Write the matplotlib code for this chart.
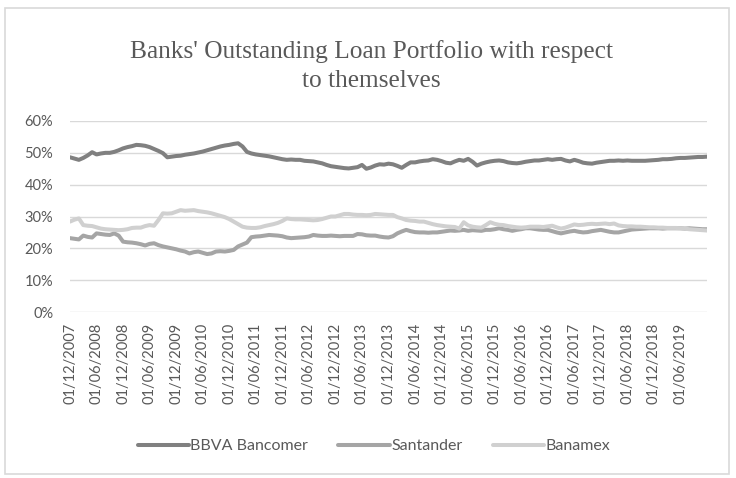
import pandas as pd
import matplotlib.pyplot as plt
from matplotlib.patches import Rectangle
from matplotlib.ticker import PercentFormatter

# monthly share of each bank, Dec 2007 .. Dec 2019 (%)
bbva = [48.6, 48.2, 47.8, 48.4, 49.2, 50.2, 49.5, 49.8, 50.0, 50.0, 50.3, 50.8,
        51.4, 51.8, 52.1, 52.5, 52.4, 52.2, 51.8, 51.2, 50.6, 49.9, 48.6, 48.8,
        49.0, 49.1, 49.4, 49.6, 49.8, 50.1, 50.4, 50.8, 51.2, 51.6, 52.0, 52.3,
        52.5, 52.8, 53.0, 52.0, 50.3, 49.8, 49.5, 49.3, 49.1, 48.9, 48.6, 48.3,
        48.0, 47.8, 47.9, 47.8, 47.8, 47.5, 47.4, 47.3, 47.0, 46.7, 46.2, 45.8,
        45.6, 45.4, 45.2, 45.1, 45.3, 45.5, 46.2, 45.0, 45.4, 46.0, 46.4, 46.3,
        46.6, 46.4, 45.9, 45.3, 46.2, 47.0, 47.0, 47.3, 47.5, 47.6, 48.0, 47.8,
        47.4, 46.9, 46.7, 47.3, 47.8, 47.5, 48.1, 47.2, 46.0, 46.6, 47.0, 47.3,
        47.5, 47.6, 47.4, 47.0, 46.8, 46.7, 46.9, 47.2, 47.4, 47.6, 47.6, 47.8,
        48.0, 47.8, 48.0, 48.1, 47.6, 47.3, 47.8, 47.4, 46.9, 46.7, 46.6, 46.9,
        47.1, 47.3, 47.5, 47.5, 47.6, 47.5, 47.6, 47.5, 47.5, 47.5, 47.5, 47.6,
        47.7, 47.8, 48.0, 48.0, 48.1, 48.3, 48.4, 48.4, 48.5, 48.6, 48.7, 48.7,
        48.8]

santander = [23.2, 23.0, 22.8, 24.0, 23.6, 23.4, 24.7, 24.5, 24.3, 24.2, 24.7, 24.0,
             22.1, 21.9, 21.8, 21.6, 21.3, 20.9, 21.4, 21.6, 21.0, 20.6, 20.3, 20.0,
             19.7, 19.3, 19.0, 18.4, 18.8, 19.0, 18.6, 18.2, 18.4, 19.0, 19.1, 19.0,
             19.2, 19.5, 20.6, 21.2, 21.8, 23.5, 23.7, 23.8, 24.0, 24.2, 24.1, 24.0,
             23.8, 23.4, 23.2, 23.3, 23.4, 23.5, 23.7, 24.2, 24.0, 23.9, 23.9, 24.0,
             23.9, 23.8, 23.9, 23.9, 23.9, 24.5, 24.4, 24.1, 24.0, 24.0, 23.7, 23.5,
             23.4, 23.8, 24.7, 25.3, 25.8, 25.4, 25.1, 25.0, 25.0, 24.9, 25.0, 25.0,
             25.2, 25.4, 25.6, 25.5, 25.6, 25.8, 25.5, 25.7, 25.6, 25.5, 25.8, 25.8,
             26.0, 26.3, 26.0, 25.8, 25.5, 25.8, 26.0, 26.3, 26.3, 26.1, 25.9, 25.8,
             25.8, 25.4, 25.0, 24.7, 25.0, 25.3, 25.5, 25.2, 25.0, 25.1, 25.4, 25.6,
             25.8, 25.5, 25.2, 25.0, 25.0, 25.3, 25.6, 25.9, 26.0, 26.1, 26.2, 26.3,
             26.3, 26.3, 26.2, 26.3, 26.3, 26.3, 26.3, 26.2, 26.3, 26.2, 26.1, 26.0,
             26.0]

banamex = [28.4, 29.0, 29.4, 27.3, 27.1, 27.0, 26.6, 26.2, 26.0, 25.9, 25.8, 25.7,
           25.8, 26.0, 26.4, 26.5, 26.5, 27.0, 27.3, 27.1, 28.9, 31.0, 30.9, 31.0,
           31.5, 32.0, 31.8, 31.9, 32.0, 31.7, 31.5, 31.3, 31.0, 30.6, 30.2, 29.8,
           29.2, 28.4, 27.6, 26.8, 26.5, 26.4, 26.4, 26.6, 27.0, 27.3, 27.6, 28.0,
           28.6, 29.4, 29.2, 29.1, 29.1, 29.0, 28.9, 28.8, 28.9, 29.2, 29.6, 30.0,
           30.0, 30.4, 30.8, 30.8, 30.6, 30.5, 30.5, 30.4, 30.5, 30.8, 30.7, 30.6,
           30.5, 30.5, 29.8, 29.4, 28.9, 28.7, 28.6, 28.4, 28.4, 28.0, 27.6, 27.3,
           27.1, 26.9, 26.8, 26.7, 26.2, 28.2, 27.2, 26.8, 26.6, 26.5, 27.3, 28.2,
           27.7, 27.4, 27.3, 27.0, 26.8, 26.6, 26.5, 26.6, 26.8, 26.8, 26.8, 26.7,
           26.9, 27.1, 26.6, 26.2, 26.5, 27.0, 27.5, 27.3, 27.4, 27.6, 27.7, 27.6,
           27.7, 27.8, 27.6, 27.8, 27.2, 27.0, 26.9, 26.9, 26.8, 26.8, 26.7, 26.6,
           26.6, 26.5, 26.5, 26.4, 26.4, 26.4, 26.3, 26.2, 26.0, 25.9, 25.8, 25.7,
           25.6]

dates = pd.date_range('2007-12-01', periods=len(bbva), freq='MS')
tick_labels = [d.strftime('%d/%m/%Y') for d in dates[::6]][:24]

grey_txt = '#595959'

fig = plt.figure(figsize=(7.36, 4.78), dpi=100)
fig.patches.append(Rectangle((5 / 736, 1 - 474 / 478), 724 / 736, 466 / 478,
                             transform=fig.transFigure, fill=False,
                             edgecolor='#d9d9d9', linewidth=1.2))

ax = fig.add_axes([70 / 736, 1 - 312 / 478, 637 / 736, 191 / 478])
x = range(len(bbva))
ax.plot(x, bbva, color='#808080', lw=2.9, label='BBVA Bancomer', solid_capstyle='round')
ax.plot(x, santander, color='#a5a5a5', lw=2.9, label='Santander', solid_capstyle='round')
ax.plot(x, banamex, color='#d0d0d0', lw=2.9, label='Banamex', solid_capstyle='round')

ax.set_xlim(0, len(bbva) - 1)
ax.set_ylim(0, 60)
ax.set_yticks(range(0, 61, 10))
ax.yaxis.set_major_formatter(PercentFormatter(decimals=0))
ax.set_xticks(range(0, 24 * 6, 6))
ax.set_xticklabels(tick_labels, rotation=90)
ax.grid(axis='y', color='#d9d9d9', lw=1)
ax.set_axisbelow(True)
for s in ax.spines.values():
    s.set_visible(False)
ax.tick_params(length=0, colors=grey_txt, labelsize=10.5, pad=8)
ax.tick_params(axis='y', pad=12)
for lab in ax.get_xticklabels() + ax.get_yticklabels():
    lab.set_family('Lato')

fig.text(0.505, 1 - 66 / 478, "Banks' Outstanding Loan Portfolio with respect\nto themselves",
         ha='center', va='center', family='Liberation Serif', fontsize=18.3,
         color=grey_txt, linespacing=1.45)

fig.legend(loc='center', bbox_to_anchor=(0.508, 1 - 446 / 478), ncol=3, frameon=False,
           prop={'family': 'Lato', 'size': 11.5}, labelcolor=grey_txt,
           handlelength=3.2, handletextpad=0.1, columnspacing=1.9)

plt.savefig('out.png', dpi=100)
